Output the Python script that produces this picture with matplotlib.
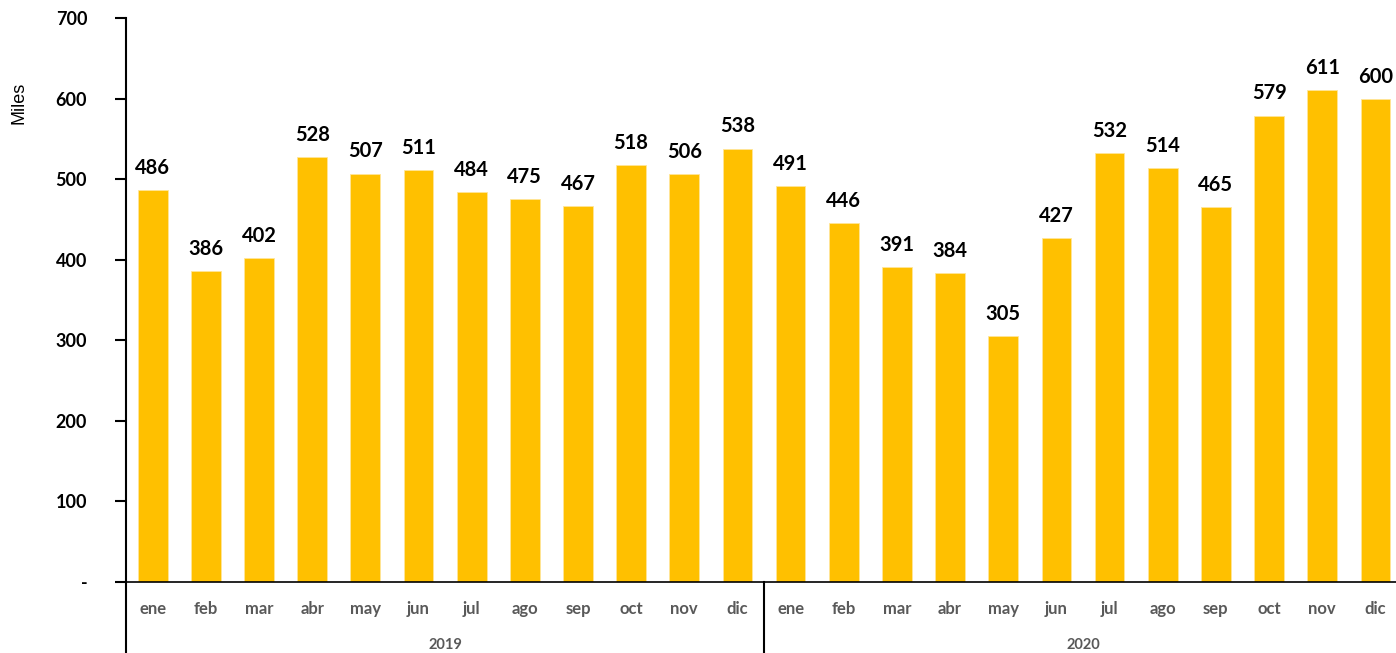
import numpy as np
import matplotlib
matplotlib.use("Agg")
import matplotlib.pyplot as plt
import matplotlib.transforms as mtransforms

plt.rcParams["font.family"] = ["Lato", "DejaVu Sans"]

# data
months = ["ene", "feb", "mar", "abr", "may", "jun", "jul", "ago", "sep", "oct", "nov", "dic"]
years = ["2019", "2020"]
values_2019 = [486, 386, 402, 528, 507, 511, 484, 475, 467, 518, 506, 538]
values_2020 = [491, 446, 391, 384, 305, 427, 532, 514, 465, 579, 611, 600]
y_ticks = [0, 100, 200, 300, 400, 500, 600, 700]

values = values_2019 + values_2020
labels = months * len(years)
x = np.arange(len(values))

fig = plt.figure(figsize=(13.96, 6.53), dpi=100)
ax = fig.add_axes([0.0903, 0.1087, 0.914, 0.8637])

bars = ax.bar(x, values, width=0.56, color="#FFC000", edgecolor="#FFE699", linewidth=0.6)
for rect, val in zip(bars, values):
    ax.text(rect.get_x() + rect.get_width() / 2, val + 15, f"{val}",
            ha="center", va="bottom", fontsize=14.5, fontweight="bold", color="#000000")

ax.set_xlim(-0.5, len(values) - 0.5)
ax.set_ylim(0, 700)
ax.set_yticks(y_ticks)
ax.set_yticklabels(["-" if t == 0 else f"{t}" for t in y_ticks],
                   fontsize=13, fontweight="bold", color="#000000")
ax.tick_params(axis="y", direction="out", length=8, width=1.5, pad=20)

ax.set_xticks(x)
ax.set_xticklabels(labels, fontsize=12, fontweight="bold", color="#595959")
ax.tick_params(axis="x", length=0, pad=14)

for side in ["top", "right"]:
    ax.spines[side].set_visible(False)
ax.spines["left"].set_linewidth(1.5)
ax.spines["bottom"].set_linewidth(1.2)
ax.spines["left"].set_color("#000000")
ax.spines["bottom"].set_color("#000000")

ax.set_ylabel("Miles", fontsize=13, color="#000000", family=["Liberation Sans", "DejaVu Sans"])
ax.yaxis.set_label_coords(-0.077, 0.85)

# two-level category axis: separators and year labels
trans = mtransforms.blended_transform_factory(ax.transData, ax.transAxes)
n = len(months)
for i in range(len(years) + 1):
    xs = i * n - 0.5
    ax.plot([xs, xs], [0, -0.15], transform=trans, color="#000000",
            linewidth=1.5, clip_on=False)
for i, yr in enumerate(years):
    ax.text(i * n + (n - 1) / 2, -0.112, yr, transform=trans, ha="center", va="center",
            fontsize=10.5, fontweight="bold", color="#595959")

fig.savefig("out.png", dpi=100)
